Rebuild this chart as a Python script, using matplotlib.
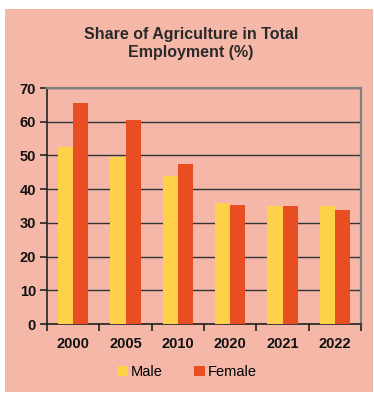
import numpy as np
import matplotlib.pyplot as plt
from matplotlib.patches import Rectangle

years = ['2000', '2005', '2010', '2020', '2021', '2022']
male = [52.6, 49.6, 44.0, 36.0, 35.1, 35.0]
female = [65.5, 60.6, 47.4, 35.2, 35.0, 33.7]

plt.rcParams['font.family'] = ['Liberation Sans', 'DejaVu Sans']

bg = '#F5B8A8'
yellow = '#FFD04A'
red = '#E84E22'

fig = plt.figure(figsize=(3.74, 3.94), dpi=100, facecolor='white')
fig.patches.append(Rectangle((5 / 374, 2 / 394), 368 / 374, 383 / 394,
                             transform=fig.transFigure, facecolor=bg,
                             edgecolor='none', zorder=-5))

ax = fig.add_axes([47 / 374, 70 / 394, 314 / 374, 236 / 394])
ax.set_facecolor(bg)

x = np.arange(len(years))
w = 0.29
ax.bar(x - w / 2, male, w, color=yellow, label='Male', zorder=3)
ax.bar(x + w / 2, female, w, color=red, label='Female', zorder=3)

ax.set_xlim(-0.5, len(years) - 0.5)
ax.set_ylim(0, 70)
ax.set_yticks(range(0, 71, 10))
ax.set_xticks(x)
ax.set_xticklabels(years)
ax.set_xticks(np.arange(-0.5, len(years), 1), minor=True)
ax.tick_params(axis='x', which='major', length=0, pad=9)
ax.tick_params(axis='x', which='minor', length=5, width=1.2, direction='out', color='#222222')
ax.tick_params(axis='y', length=5, width=1.2, direction='out', color='#222222', pad=3)
for lab in ax.get_xticklabels() + ax.get_yticklabels():
    lab.set_fontweight('bold')
    lab.set_fontsize(10.5)
    lab.set_color('#111111')

ax.yaxis.grid(True, color='#333333', linewidth=1.0, zorder=1)
ax.set_axisbelow(True)
for s in ['top', 'right']:
    ax.spines[s].set_color('#808080')
    ax.spines[s].set_linewidth(1.6)
for s in ['left', 'bottom']:
    ax.spines[s].set_color('#222222')
    ax.spines[s].set_linewidth(1.2)

fig.text(0.51, 350 / 394, 'Share of Agriculture in Total\nEmployment (%)',
         ha='center', va='center', fontsize=11.5, fontweight='bold',
         color='#2a2a2a', linespacing=1.25)

fig.legend(loc='center', bbox_to_anchor=(0.5, 22 / 394), ncol=2, frameon=False,
           fontsize=10.5, handlelength=0.7, handleheight=0.7, handletextpad=0.2,
           columnspacing=2.2)

fig.savefig('out.png', dpi=100, facecolor='white')
